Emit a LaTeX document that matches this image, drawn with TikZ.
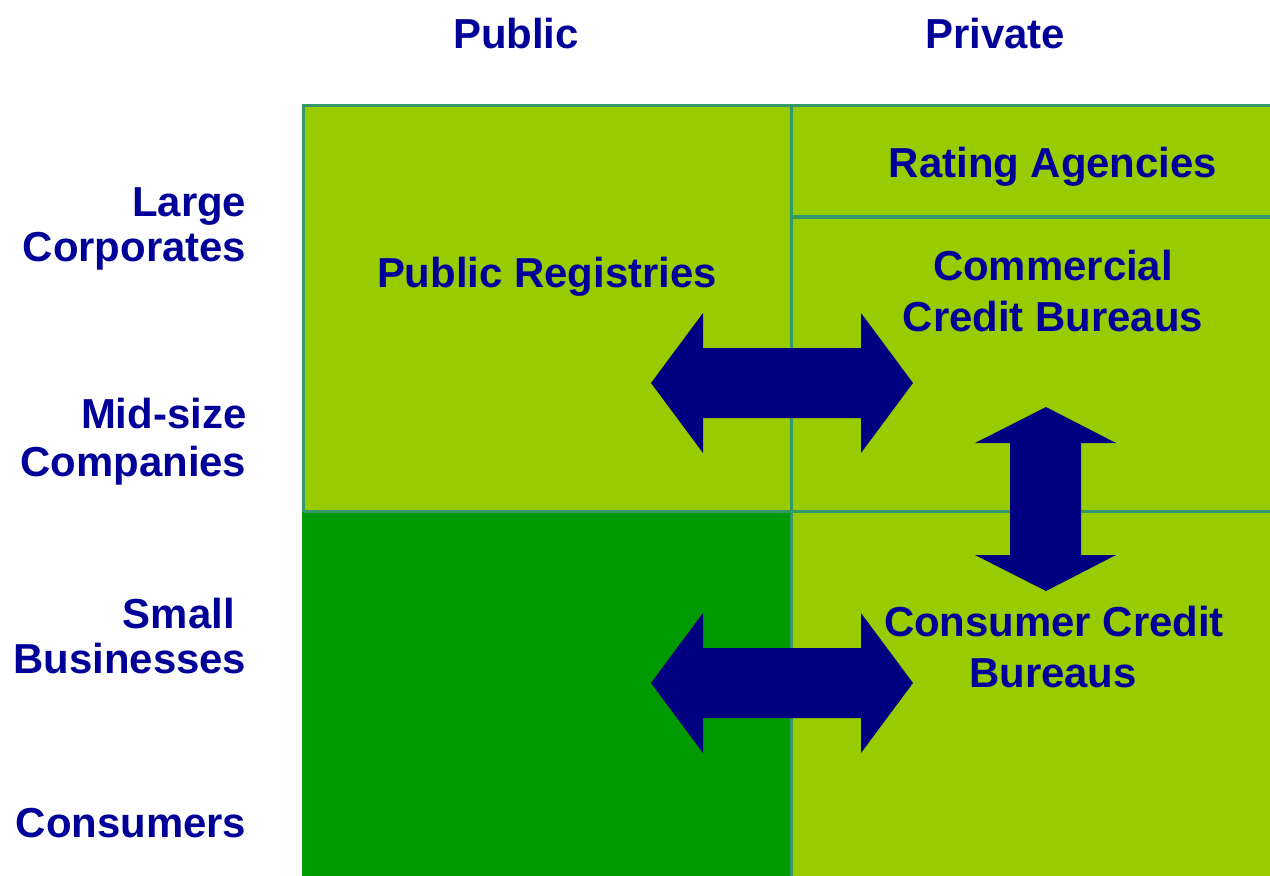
\documentclass[tikz,border=0pt]{standalone}
\usepackage{fontspec}
\setmainfont{Liberation Sans}
\definecolor{cellLight}{HTML}{99CC00}
\definecolor{cellDark}{HTML}{009900}
\definecolor{gridLine}{HTML}{339966}
\definecolor{inkNavy}{HTML}{000099}
\definecolor{arrowNavy}{HTML}{000080}
\begin{document}
\begin{tikzpicture}[x=1pt,y=-1pt,
  lbl/.style={text=inkNavy, font=\fontsize{41.9}{48}\selectfont\bfseries, inner sep=0pt, anchor=base},
  rowlbl/.style={lbl, anchor=base east},
  grid/.style={draw=gridLine, line width=3.5pt},
  blockarrow/.style={fill=arrowNavy}]
\useasboundingbox (0,0) rectangle (1270,876);

% cells
\fill[cellLight] (302,104) rectangle (1270,876);
\fill[cellDark] (302,511.5) rectangle (791.5,876);

% grid lines
\draw[grid] (303.5,511.5) -- (303.5,105.5) -- (1270,105.5);
\draw[grid] (791.5,105.5) -- (791.5,876);
\draw[grid] (791.5,217) -- (1270,217);
\draw[grid] (303.5,511.5) -- (1270,511.5);

% block arrows
\fill[blockarrow] (651,383) -- (703,313) -- (703,348) -- (861,348) -- (861,313) -- (913,383)
  -- (861,453) -- (861,418) -- (703,418) -- (703,453) -- cycle;
\fill[blockarrow] (651,683) -- (703,613) -- (703,648) -- (861,648) -- (861,613) -- (913,683)
  -- (861,753) -- (861,718) -- (703,718) -- (703,753) -- cycle;
\fill[blockarrow] (1046,407) -- (1116,443) -- (1081,443) -- (1081,555) -- (1116,555) -- (1046,591)
  -- (975,555) -- (1010,555) -- (1010,443) -- (975,443) -- cycle;

% column headers
\node[lbl] (colPublic) at (516,48) {Public};
\node[lbl] (colPrivate) at (995,48) {Private};

% row labels
\node[rowlbl] (rowLargeA) at (246.5,216) {Large};
\node[rowlbl] (rowLargeB) at (246.5,261) {Corporates};
\node[rowlbl] (rowMidA) at (246.5,428) {Mid-size};
\node[rowlbl] (rowMidB) at (246.5,476) {Companies};
\node[rowlbl] (rowSmallA) at (246.5,628) {Small\hspace*{0.278em}};
\node[rowlbl] (rowSmallB) at (246.5,673) {Businesses};
\node[rowlbl] (rowCons) at (246.5,837) {Consumers};

% cell labels
\node[lbl] (registries) at (547,287) {Public Registries};
\node[lbl] (rating) at (1053,177) {Rating Agencies};
\node[lbl] (commA) at (1053,280) {Commercial};
\node[lbl] (commB) at (1053,331) {Credit Bureaus};
\node[lbl] (consA) at (1054,636) {Consumer Credit};
\node[lbl] (consB) at (1053,687) {Bureaus};
\end{tikzpicture}
\end{document}
